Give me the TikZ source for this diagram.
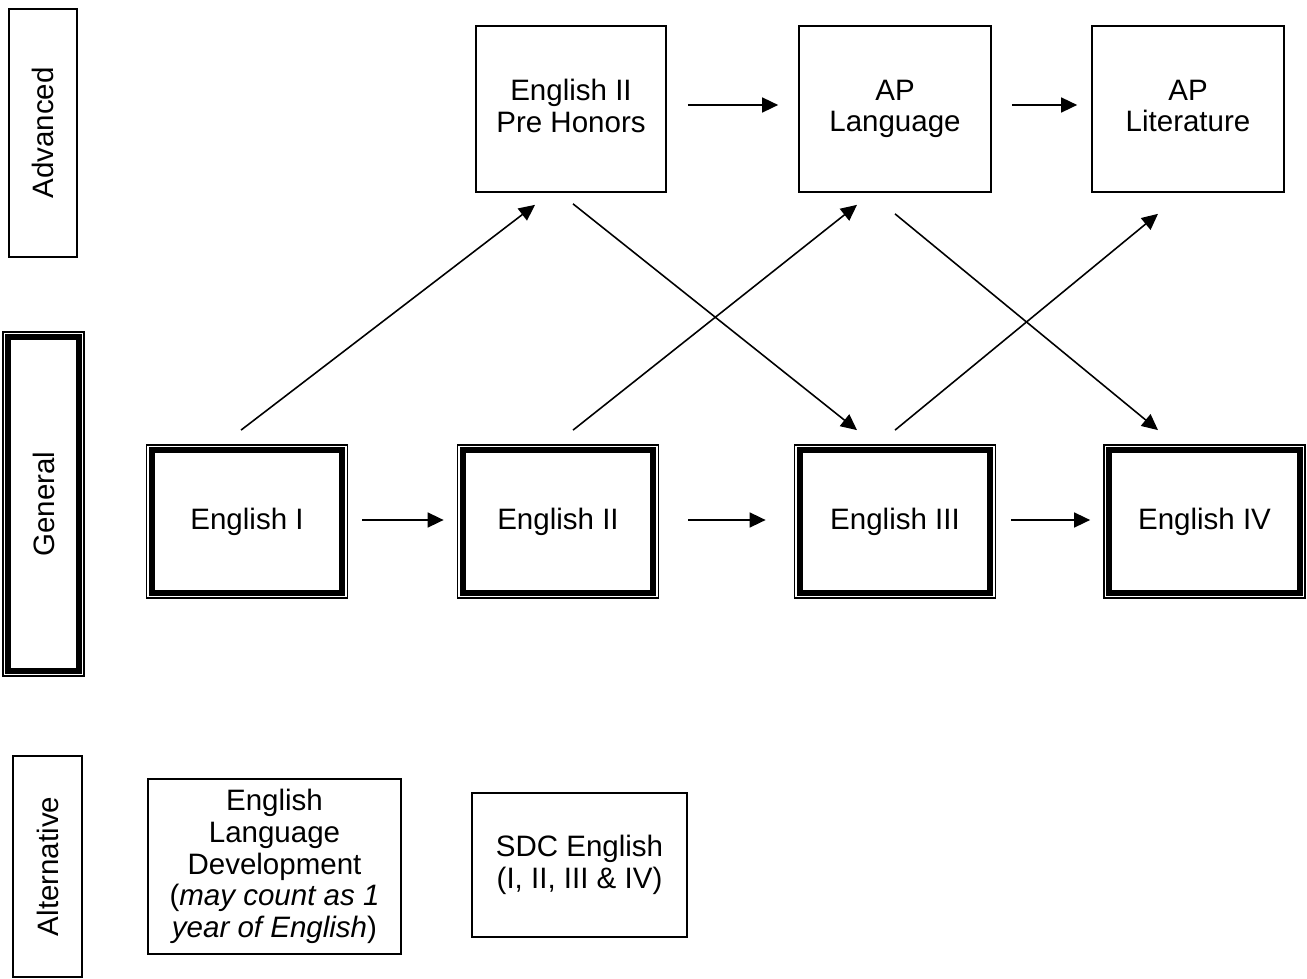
\documentclass[tikz,border=0pt]{standalone}
\usepackage{fontspec}
\setmainfont{Liberation Sans}
\usetikzlibrary{arrows.meta}

\tikzset{
  every node/.style={font=\fontsize{16.8}{18}\selectfont, inner sep=0pt, align=center},
  lane/.style={draw, line width=1pt, rotate=90},
  course/.style={draw, line width=1pt},
  core/.style={draw, fill=white, line width=3.4pt, outer sep=3.5pt,
    preaction={draw, double, line width=0.9pt, double distance=5.2pt}},
  conn/.style={-{Triangle[length=0.32cm, width=0.3cm]}, line width=0.9pt}
}

\begin{document}
\begin{tikzpicture}[x=0.02cm, y=-0.02cm]
      \useasboundingbox (0, 0) rectangle (1307, 979);

      % track labels
      \node[lane, minimum width=4.96cm, minimum height=1.36cm] (adv) at (43, 133) {Advanced};
      \node[lane, core, minimum width=6.67cm, minimum height=1.41cm] (gen) at (43.5, 504) {General};
      \node[lane, minimum width=4.42cm, minimum height=1.38cm] (alt) at (47.5, 866.5) {Alternative};

      % advanced courses
      \node[course, minimum width=3.80cm, minimum height=3.32cm] (ph) at (571, 109) {English II\\Pre Honors\vphantom{g}};
      \node[course, minimum width=3.84cm, minimum height=3.32cm] (apl) at (895, 109) {AP\\Language};
      \node[course, minimum width=3.84cm, minimum height=3.32cm] (apt) at (1188, 109) {AP\\Literature\vphantom{g}};

      % general courses
      \node[core, minimum width=3.81cm, minimum height=2.85cm] (e1) at (247, 521.5) {English I};
      \node[core, minimum width=3.81cm, minimum height=2.85cm] (e2) at (558, 521.5) {English II};
      \node[core, minimum width=3.81cm, minimum height=2.85cm] (e3) at (895, 521.5) {English III};
      \node[core, minimum width=3.81cm, minimum height=2.85cm] (e4) at (1204.5, 521.5) {English IV};

      % alternative courses
      \node[course, minimum width=5.06cm, minimum height=3.50cm] (eld) at (274.5, 866.5)
        {English\\Language\\Development\\(\textit{may count as 1}\\\textit{year of English})};
      \node[course, minimum width=4.30cm, minimum height=2.88cm] (sdc) at (579.5, 865) {SDC English\\(I, II, III \& IV)};

      % arrows
      \draw[conn] ([shift={(21,-4)}]ph.east) -- ([shift={(-20,-4)}]apl.west);
      \draw[conn] ([shift={(20,-4)}]apl.east) -- ([shift={(-14,-4)}]apt.west);
      \draw[conn] ([shift={(14,-1.5)}]e1.east) -- ([shift={(-13,-1.5)}]e2.west);
      \draw[conn] ([shift={(29,-1.5)}]e2.east) -- ([shift={(-28,-1.5)}]e3.west);
      \draw[conn] ([shift={(15,-1.5)}]e3.east) -- ([shift={(-13,-1.5)}]e4.west);

      \draw[conn] ([shift={(-6,-14)}]e1.north) -- ([shift={(-36,12)}]ph.south);
      \draw[conn] ([shift={(15,-14)}]e2.north) -- ([shift={(-38,12)}]apl.south);
      \draw[conn] ([shift={(0,-14)}]e3.north) -- ([shift={(-30,21)}]apt.south);
      \draw[conn] ([shift={(2,11)}]ph.south) -- ([shift={(-38,-14)}]e3.north);
      \draw[conn] ([shift={(0,21)}]apl.south) -- ([shift={(-46.5,-14)}]e4.north);

    \end{tikzpicture}
\end{document}
